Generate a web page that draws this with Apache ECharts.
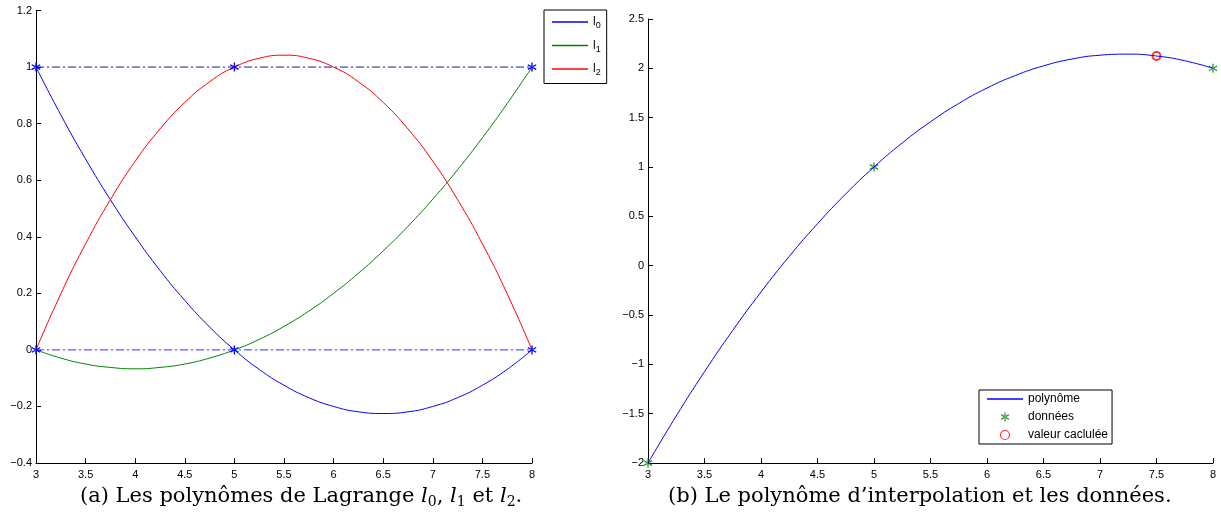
<!DOCTYPE html>
<html>
<head>
<meta charset="utf-8">
<script src="https://cdn.jsdelivr.net/npm/echarts@6/dist/echarts.min.js"></script>
<style>
  html, body { margin: 0; padding: 0; background: #fff; }
  #chart { width: 1221px; height: 524px; }
</style>
</head>
<body>
<div id="chart"></div>
<script>
// abscisses
var xs = [3, 3.25, 3.5, 3.75, 4, 4.25, 4.5, 4.75, 5, 5.25, 5.5, 5.75, 6, 6.25, 6.5, 6.75, 7, 7.25, 7.5, 7.75, 8]

// (a) polynomes de Lagrange
var l0Values = [1, 0.831, 0.675, 0.531, 0.4, 0.281, 0.175, 0.081, 0, -0.069, -0.125, -0.169, -0.2, -0.219, -0.225, -0.219, -0.2, -0.169, -0.125, -0.069, 0]
var l1Values = [0, -0.029, -0.05, -0.062, -0.067, -0.062, -0.05, -0.029, 0, 0.037, 0.083, 0.137, 0.2, 0.271, 0.35, 0.437, 0.533, 0.637, 0.75, 0.871, 1]
var l2Values = [0, 0.198, 0.375, 0.531, 0.667, 0.781, 0.875, 0.948, 1, 1.031, 1.042, 1.031, 1, 0.948, 0.875, 0.781, 0.667, 0.531, 0.375, 0.198, 0]
var nodes = [3, 5, 8]
var lineOne = [1, 1, 1]
var lineZero = [0, 0, 0]

// (b) polynome d'interpolation
var polyValues = [-2, -1.523, -1.075, -0.656, -0.267, 0.094, 0.425, 0.727, 1, 1.244, 1.458, 1.644, 1.8, 1.927, 2.025, 2.094, 2.133, 2.144, 2.125, 2.077, 2]
var dataValues = [-2, 1, 2]
var calcPoint = [7.5, 2.125]

var captionA = '(a) Les polynômes de Lagrange '
var captionB = '(b) Le polynôme d\u2019interpolation et les données.'

function pairs (x, y) {
    var out = []
    for (var i = 0; i < x.length; i++) out.push([x[i], y[i]])
    return out
}

var star = 'path://M-0.7,-5L0.7,-5L0.7,5L-0.7,5Z M-4.7,-2L-4,-3.2L4.7,2L4,3.2Z M-4.7,2L-4,3.2L4.7,-2L4,-3.2Z'
var lineIcon = 'path://M0,0L36,0L36,1.4L0,1.4Z'
var tickFont = { fontFamily: 'Liberation Sans', fontSize: 11, color: '#000' }
var minusFmt = function (v) { return String(v).replace('-', '\u2212') }

function xAxisFor (gridIndex) {
    return {
        type: 'value', gridIndex: gridIndex, min: 3, max: 8, interval: 0.5,
        axisLine: { onZero: false, lineStyle: { color: '#000', width: 1 } },
        axisTick: { inside: true, length: 5, lineStyle: { color: '#000' } },
        axisLabel: Object.assign({ margin: 6, formatter: minusFmt }, tickFont),
        splitLine: { show: false }
    }
}
function yAxisFor (gridIndex, min, max, interval) {
    return {
        type: 'value', gridIndex: gridIndex, min: min, max: max, interval: interval,
        axisLine: { show: true, onZero: false, lineStyle: { color: '#000', width: 1 } },
        axisTick: { show: true, inside: true, length: 5, lineStyle: { color: '#000' } },
        axisLabel: Object.assign({ margin: 4, formatter: minusFmt }, tickFont),
        splitLine: { show: false }
    }
}

var legendRich = {
    b: { fontFamily: 'Liberation Sans', fontSize: 12, color: '#000' },
    s: { fontFamily: 'Liberation Sans', fontSize: 9, color: '#000', padding: [8, 0, 0, 0] }
}

function legendLine (name, color) {
    return { name: name, itemStyle: { color: color, borderWidth: 0 }, lineStyle: { color: color, width: 1 } }
}

var chart = echarts.init(document.getElementById('chart'))
chart.setOption({
    animation: false,
    grid: [
        { left: 36, top: 10.5, width: 496, height: 452.5 },
        { left: 648, top: 19, width: 565, height: 444 }
    ],
    xAxis: [xAxisFor(0), xAxisFor(1)],
    yAxis: [yAxisFor(0, -0.4, 1.2, 0.2), yAxisFor(1, -2, 2.5, 0.5)],
    legend: [{
        data: [legendLine('l0', '#0000ff'), legendLine('l1', '#008000'), legendLine('l2', '#ff0000')],
        icon: lineIcon,
        orient: 'vertical', left: 544, top: 10,
        borderColor: '#000', borderWidth: 1, padding: [6, 6, 6, 8],
        itemWidth: 36, itemHeight: 10, itemGap: 9,
        formatter: function (name) { return '{b|l}{s|' + name.slice(1) + '}' },
        textStyle: { rich: legendRich }
    }, {
        data: [
            Object.assign(legendLine('polynôme', '#0000ff'), { icon: lineIcon }),
            { name: 'données', icon: star, itemStyle: { color: '#008000' } },
            { name: 'valeur caclulée', icon: 'circle', itemStyle: { color: 'rgba(255,255,255,0)', borderColor: '#ff0000', borderWidth: 1.2 } }
        ],
        orient: 'vertical', left: 979, top: 390,
        borderColor: '#000', borderWidth: 1, padding: [3, 4, 3, 8],
        itemWidth: 36, itemHeight: 9, itemGap: 6,
        textStyle: { fontFamily: 'Liberation Sans', fontSize: 12, color: '#000' }
    }],
    series: [
        { name: 'l0', type: 'line', xAxisIndex: 0, yAxisIndex: 0, smooth: true, symbol: 'none',
          lineStyle: { color: '#0000ff', width: 1 }, itemStyle: { color: '#0000ff' }, data: pairs(xs, l0Values) },
        { name: 'l1', type: 'line', xAxisIndex: 0, yAxisIndex: 0, smooth: true, symbol: 'none',
          lineStyle: { color: '#008000', width: 1 }, itemStyle: { color: '#008000' }, data: pairs(xs, l1Values) },
        { name: 'l2', type: 'line', xAxisIndex: 0, yAxisIndex: 0, smooth: true, symbol: 'none',
          lineStyle: { color: '#ff0000', width: 1 }, itemStyle: { color: '#ff0000' }, data: pairs(xs, l2Values) },
        { name: 'un', type: 'line', xAxisIndex: 0, yAxisIndex: 0, symbol: star, symbolSize: 9, showSymbol: true,
          lineStyle: { color: '#1a1ab0', width: 1, type: [8, 3, 2, 3] }, itemStyle: { color: '#0000ff' }, data: pairs(nodes, lineOne) },
        { name: 'zero', type: 'line', xAxisIndex: 0, yAxisIndex: 0, symbol: star, symbolSize: 9, showSymbol: true,
          lineStyle: { color: '#3030ff', width: 1, type: [8, 3, 2, 3] }, itemStyle: { color: '#0000ff' }, data: pairs(nodes, lineZero) },

        { name: 'polynôme', type: 'line', xAxisIndex: 1, yAxisIndex: 1, smooth: true, symbol: 'none',
          lineStyle: { color: '#0000ff', width: 1 }, itemStyle: { color: '#0000ff' }, data: pairs(xs, polyValues) },
        { name: 'données', type: 'scatter', xAxisIndex: 1, yAxisIndex: 1, symbol: star, symbolSize: 9,
          itemStyle: { color: '#008000' }, data: pairs(nodes, dataValues) },
        { name: 'valeur caclulée', type: 'scatter', xAxisIndex: 1, yAxisIndex: 1, symbol: 'emptyCircle', symbolSize: 8,
          itemStyle: { color: '#ff0000', borderColor: '#ff0000', borderWidth: 1 }, data: [calcPoint] }
    ],
    graphic: [{
        type: 'text', left: 80, top: 486,
        style: {
            text: '{r|' + captionA + '}{i|l}{s|0}{r|, }{i|l}{s|1}{r| et }{i|l}{s|2}{r|.}',
            rich: {
                r: { fontFamily: 'DejaVu Serif', fontSize: 21, color: '#000' },
                i: { fontFamily: 'DejaVu Serif', fontStyle: 'italic', fontSize: 21, color: '#000' },
                s: { fontFamily: 'DejaVu Serif', fontSize: 14, color: '#000', padding: [11, 0, 0, 0] }
            }
        }
    }, {
        type: 'text', left: 668, top: 486,
        style: { text: captionB, fontFamily: 'DejaVu Serif', fontSize: 21, fill: '#000' }
    }]
})
</script>
</body>
</html>
